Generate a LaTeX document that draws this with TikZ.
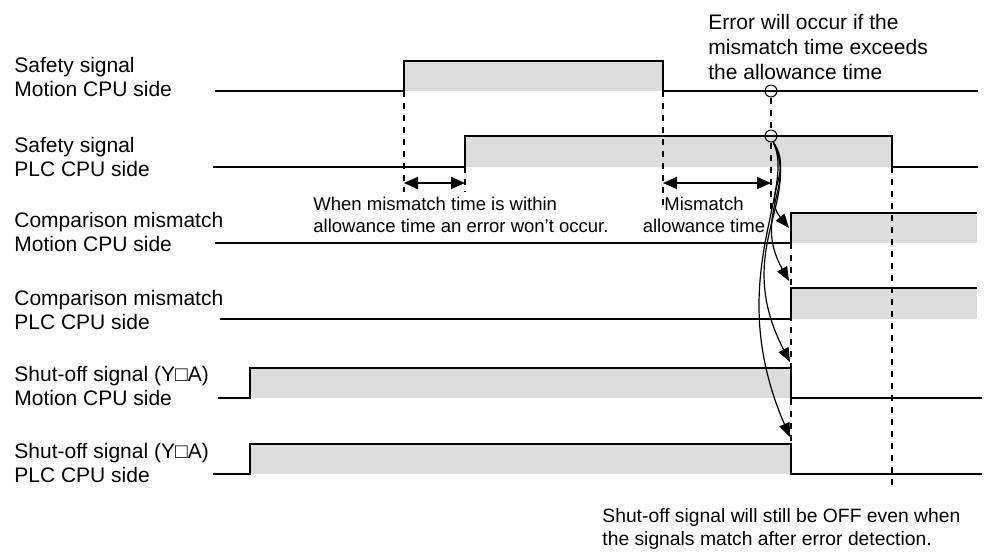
\documentclass[tikz,border=0pt]{standalone}
\usepackage{fontspec}
\setmainfont{Liberation Sans}
\usetikzlibrary{arrows.meta}
\definecolor{levelfill}{RGB}{221,221,221}

\begin{document}
\begin{tikzpicture}[
    x=0.5pt, y=-0.5pt,
    signal/.style={line width=1.4pt, line join=miter},
    guide/.style={line width=0.6pt, dash pattern=on 3pt off 3pt},
    signame/.style={anchor=north west, inner sep=0pt, align=left, font=\fontsize{10.5}{12}\selectfont},
    note/.style={inner sep=0pt, font=\fontsize{9.25}{11}\selectfont},
    probe/.style={draw, circle, line width=0.5pt, minimum size=6pt, inner sep=0pt},
    span/.style={{Triangle[length=7pt,width=6pt]}-{Triangle[length=7pt,width=6pt]}, line width=1pt},
    cause/.style={-{Triangle[length=7pt,width=5.5pt]}, line width=0.6pt}
]
    \useasboundingbox (0,0) rectangle (1003,554);

    % Bands
    \fill[levelfill] (404,61) rectangle (663,91);
    \fill[levelfill] (465,136) rectangle (892,167);
    \fill[levelfill] (791,213) rectangle (977,243);
    \fill[levelfill] (791,288) rectangle (977,319);
    \fill[levelfill] (250,368) rectangle (791,398);
    \fill[levelfill] (250,444) rectangle (791,474);

    % Guides
    \draw[guide] (404,91) -- (404,192);
    \draw[guide] (465,167) -- (465,192);
    \draw[guide] (663,91) -- (663,208);
    \draw[guide] (791,243) -- (791,444);
    \draw[guide] (892,167) -- (892,486);

    % Signals
    \draw[signal] (215,91) -- (404,91) -- (404,61) -- (663,61) -- (663,91) -- (978,91);
    \draw[signal] (213,167) -- (465,167) -- (465,136) -- (892,136) -- (892,167) -- (978,167);
    \draw[signal] (215,243) -- (791,243) -- (791,213) -- (977,213);
    \draw[signal] (220,319) -- (791,319) -- (791,288) -- (977,288);
    \draw[signal] (218,398) -- (250,398) -- (250,368) -- (791,368) -- (791,398) -- (982,398);
    \draw[signal] (213,474) -- (250,474) -- (250,444) -- (791,444) -- (791,474) -- (982,474);

    % Probes
    \node[probe] (err1) at (771,91) {};
    \node[probe] (err2) at (771,136) {};
    \coordinate (errend) at (771,212);
    \draw[guide] (err1) -- (err2);
    \draw[guide] (err2) -- (errend);

    % Spans
    \coordinate (ok1) at (404,183);
    \coordinate (ok2) at (465,183);
    \coordinate (mis1) at (663,183);
    \coordinate (mis2) at (771,183);
    \draw[span] (ok1) -- (ok2);
    \draw[span] (mis1) -- (mis2);

    % Arrows
    \coordinate (hit3) at (789,228);
    \coordinate (hit4) at (789,281);
    \coordinate (hit5) at (790,362);
    \coordinate (hit6) at (790,437);
    \draw[cause] (err2.-70) .. controls (794,172) and (762,195) .. (hit3);
    \draw[cause] (err2.-70) .. controls (797,185) and (752,215) .. (hit4);
    \draw[cause] (err2.-70) .. controls (802,200) and (732,250) .. (hit5);
    \draw[cause] (err2.-70) .. controls (797,190) and (722,280) .. (hit6);

    % Names
    \node[signame] (sig1) at (14,57) {Safety signal\\Motion CPU side};
    \node[signame] (sig2) at (14,137) {Safety signal\\PLC CPU side};
    \node[signame] (sig3) at (14,212) {Comparison mismatch\\Motion CPU side};
    \node[signame] (sig4) at (14,290) {Comparison mismatch\\PLC CPU side};
    \node[signame] (sig5) at (14,366) {Shut-off signal (Y□A)\\Motion CPU side};
    \node[signame] (sig6) at (14,443) {Shut-off signal (Y□A)\\PLC CPU side};

    % Notes
    \node[signame, font=\fontsize{10.5}{12.5}\selectfont] (errnote) at (708,14) {Error will occur if the\\mismatch time exceeds\\the allowance time};
    \node[note, anchor=north west, align=left] (oknote) at (313,197) {When mismatch time is within\\allowance time an error won't occur.};
    \node[note, anchor=north, align=center] (allownote) at (704,197) {Mismatch\\allowance time};
    \node[note, anchor=north west, align=left, font=\fontsize{9.65}{11.5}\selectfont] (offnote) at (602,508) {Shut-off signal will still be OFF even when\\the signals match after error detection.};
\end{tikzpicture}
\end{document}
